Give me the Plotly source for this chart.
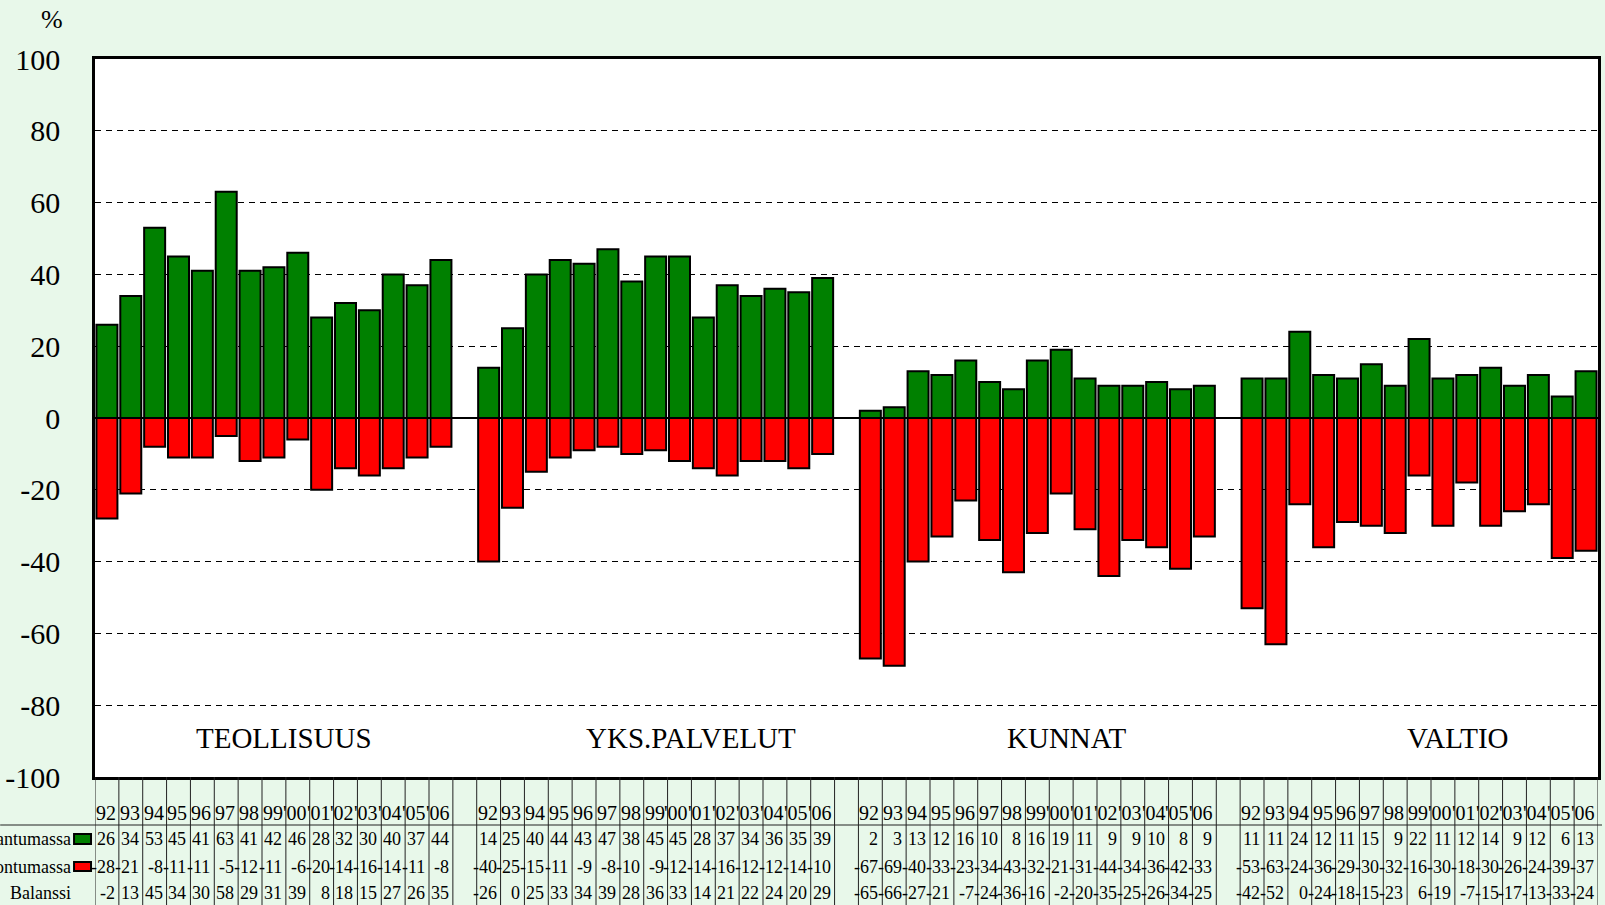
import plotly.graph_objects as go

# ---------------- data ----------------
groups = ["TEOLLISUUS", "YKS.PALVELUT", "KUNNAT", "VALTIO"]
years = ["92", "93", "94", "95", "96", "97", "98", "99", "'00", "'01", "'02", "'03", "'04", "'05", "'06"]

up_teollisuus = [26, 34, 53, 45, 41, 63, 41, 42, 46, 28, 32, 30, 40, 37, 44]
down_teollisuus = [-28, -21, -8, -11, -11, -5, -12, -11, -6, -20, -14, -16, -14, -11, -8]
bal_teollisuus = [-2, 13, 45, 34, 30, 58, 29, 31, 39, 8, 18, 15, 27, 26, 35]

up_palvelut = [14, 25, 40, 44, 43, 47, 38, 45, 45, 28, 37, 34, 36, 35, 39]
down_palvelut = [-40, -25, -15, -11, -9, -8, -10, -9, -12, -14, -16, -12, -12, -14, -10]
bal_palvelut = [-26, 0, 25, 33, 34, 39, 28, 36, 33, 14, 21, 22, 24, 20, 29]

up_kunnat = [2, 3, 13, 12, 16, 10, 8, 16, 19, 11, 9, 9, 10, 8, 9]
down_kunnat = [-67, -69, -40, -33, -23, -34, -43, -32, -21, -31, -44, -34, -36, -42, -33]
bal_kunnat = [-65, -66, -27, -21, -7, -24, -36, -16, -2, -20, -35, -25, -26, -34, -25]

up_valtio = [11, 11, 24, 12, 11, 15, 9, 22, 11, 12, 14, 9, 12, 6, 13]
down_valtio = [-53, -63, -24, -36, -29, -30, -32, -16, -30, -18, -30, -26, -24, -39, -37]
bal_valtio = [-42, -52, 0, -24, -18, -15, -23, 6, -19, -7, -15, -17, -13, -33, -24]

row_labels = ["Parantumassa", "Huonontumassa", "Balanssi"]
y_ticks = [100, 80, 60, 40, 20, 0, -20, -40, -60, -80, -100]

# ---------------- layout constants ----------------
SERIF = "Liberation Serif"
BG = "#E8F8EA"
GREEN = "#008000"
RED = "#FF0000"
W, H = 1605, 905
ML, MR, MT, MB = 95, 4, 59, 128
PW = W - ML - MR
PH = H - MT - MB
SLOTS_PER_GROUP = 16  # 15 years + a gap slot
N_SLOTS = 63
label_slot = [7.42, 24.49, 40.25, 56.65]

ups = [up_teollisuus, up_palvelut, up_kunnat, up_valtio]
downs = [down_teollisuus, down_palvelut, down_kunnat, down_valtio]
bals = [bal_teollisuus, bal_palvelut, bal_kunnat, bal_valtio]


def slot(g, i):
    return g * SLOTS_PER_GROUP + i


def py(px):
    """pixel y (from top of page) -> paper y"""
    return (H - MB - px) / PH


def pxx(px):
    return (px - ML) / PW


xs, up_all, down_all = [], [], []
for g in range(len(groups)):
    for i in range(len(years)):
        xs.append(slot(g, i))
        up_all.append(ups[g][i])
        down_all.append(downs[g][i])

fig = go.Figure()
fig.add_trace(go.Bar(x=xs, y=up_all, marker=dict(color=GREEN, line=dict(color="black", width=2)),
                     name=row_labels[0], showlegend=False))
fig.add_trace(go.Bar(x=xs, y=down_all, marker=dict(color=RED, line=dict(color="black", width=2)),
                     name=row_labels[1], showlegend=False))

shapes = []
annotations = []

# table vertical lines
for k in range(N_SLOTS + 1):
    shapes.append(dict(type="line", xref="x", yref="paper", x0=k - 0.5, x1=k - 0.5,
                       y0=0, y1=py(H + 2), line=dict(color="#222222", width=1)))
# horizontal line under header
shapes.append(dict(type="line", xref="paper", yref="paper", x0=pxx(0), x1=pxx(W),
                   y0=py(825), y1=py(825), line=dict(color="#222222", width=1)))
# legend keys
shapes.append(dict(type="rect", xref="paper", yref="paper", x0=pxx(74), x1=pxx(91),
                   y0=py(844), y1=py(834), fillcolor=GREEN, line=dict(color="black", width=2)))
shapes.append(dict(type="rect", xref="paper", yref="paper", x0=pxx(74), x1=pxx(91),
                   y0=py(871), y1=py(862), fillcolor=RED, line=dict(color="black", width=2)))

row_y = [py(813), py(839), py(867), py(893)]
for g in range(len(groups)):
    for i, yr in enumerate(years):
        s = slot(g, i)
        annotations.append(dict(x=s + 0.5, y=row_y[0], xref="x", yref="paper", text=yr,
                                xanchor="right", yanchor="middle", xshift=-1, showarrow=False,
                                font=dict(family=SERIF, size=20, color="black")))
        for r, arr in enumerate([ups[g], downs[g], bals[g]]):
            annotations.append(dict(x=s + 0.5, y=row_y[r + 1], xref="x", yref="paper",
                                    text=str(arr[i]), xanchor="right", yanchor="middle",
                                    xshift=-2, showarrow=False,
                                    font=dict(family=SERIF, size=18, color="black")))
    annotations.append(dict(x=label_slot[g], y=-89, xref="x", yref="y", text=groups[g],
                            showarrow=False, xanchor="center", yanchor="middle",
                            font=dict(family=SERIF, size=29, color="black")))

for r, lab in enumerate(row_labels):
    annotations.append(dict(x=pxx(73), y=row_y[r + 1], xref="paper", yref="paper", text=lab,
                            xanchor="right", yanchor="middle", showarrow=False,
                            font=dict(family=SERIF, size=18, color="black")))

annotations.append(dict(x=pxx(52), y=py(20), xref="paper", yref="paper", text="%",
                        showarrow=False, xanchor="center", yanchor="middle",
                        font=dict(family=SERIF, size=26, color="black")))

fig.update_layout(
    width=W, height=H,
    margin=dict(l=ML, r=MR, t=MT, b=MB, pad=0),
    paper_bgcolor=BG, plot_bgcolor="white",
    font=dict(family=SERIF, color="black"),
    barmode="relative", bargap=0.12,
    shapes=shapes, annotations=annotations,
    xaxis=dict(range=[-0.5, N_SLOTS - 0.5], showticklabels=False, showgrid=False, zeroline=False,
               showline=True, mirror=True, linecolor="black", linewidth=2.5, ticks=""),
    yaxis=dict(range=[-100, 100], tickvals=y_ticks, ticktext=[str(v) for v in y_ticks],
               showgrid=True, gridcolor="black", griddash="6px,5px", gridwidth=1,
               zeroline=True, zerolinecolor="black", zerolinewidth=2,
               showline=True, mirror=True, linecolor="black", linewidth=2.5, ticks="",
               ticklabelstandoff=26,
               tickfont=dict(family=SERIF, size=30, color="black")),
)

fig.write_html("out.html", config={"displayModeBar": False},
               post_script="document.body.style.margin='0';document.body.style.overflow='hidden';")
